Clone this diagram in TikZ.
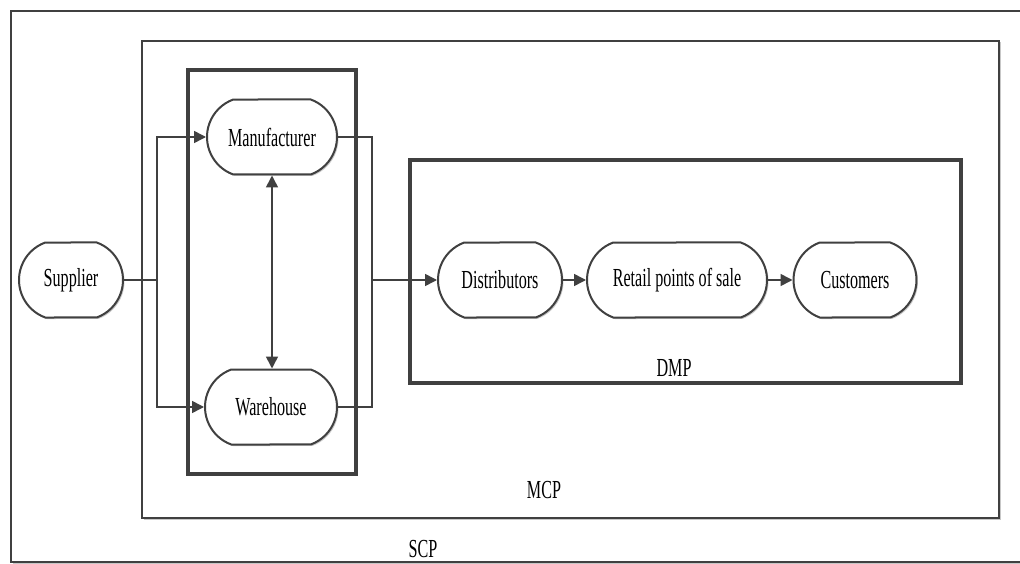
\documentclass[tikz,border=0pt]{standalone}
\usepackage{fontspec}
\usepackage{graphicx}
\setmainfont{Liberation Serif}
\usetikzlibrary{arrows.meta,shadows,shapes.misc}
\definecolor{ink}{HTML}{404040}
\newcommand{\sq}[1]{\scalebox{0.62}[1]{#1}}
\tikzset{
  shad/.style={drop shadow={shadow xshift=1.5pt,shadow yshift=-1.5pt,fill=black!22,opacity=1}},
  frame/.style={draw=ink,fill=white,shad},
  proc/.style={draw=ink,line width=2pt,fill=white,rounded rectangle,
    rounded rectangle arc length=140,
    minimum height=75pt,inner sep=0pt,shad,
    font=\fontsize{26}{29}\selectfont},
  conn/.style={draw=ink,line width=1.6pt},
  arr/.style={conn,-{Triangle[length=12pt,width=12pt]}},
  lbl/.style={font=\fontsize{26}{29}\selectfont,inner sep=0pt}
}
\begin{document}
\begin{tikzpicture}[x=1pt,y=-1pt]
\useasboundingbox (0,0) rectangle (1020,564);
% frames
\path[frame,line width=2pt] (11,11) rectangle (1030,562);
\path[frame,line width=2.5pt] (142,41) rectangle (999,518);
\path[frame,line width=3.5pt] (188,70) rectangle (356,474);
\path[frame,line width=3.5pt] (410,160) rectangle (961,383);
% labels
\node[lbl] (scp) at (423,549) {\sq{SCP}};
\node[lbl] (mcp) at (544,490) {\sq{MCP}};
\node[lbl] (dmp) at (674,368) {\sq{DMP}};
% process nodes
\node[proc,minimum width=104pt] (sup) at (71,280) {\sq{Supplier}};
\node[proc,minimum width=130pt] (man) at (272,137) {\sq{Manufacturer}};
\node[proc,minimum width=132pt] (war) at (271,407) {\sq{Warehouse}};
\node[proc,minimum width=124pt] (dis) at (500,280) {\sq{Distributors}};
\node[proc,minimum width=180pt] (ret) at (677,280) {\sq{Retail points of sale}};
\node[proc,minimum width=123pt] (cus) at (855,280) {\sq{Customers}};
% junctions
\coordinate (j1) at (157,280);
\coordinate (j2) at (372,280);
% connectors
\draw[conn] (sup.east) -- (j1);
\draw[arr] (j1) |- (man.west);
\draw[arr] (j1) |- (war.west);
\draw[conn] (man.east) -| (j2);
\draw[conn] (war.east) -| (j2);
\draw[arr] (j2) -- (dis.west);
\draw[arr] (dis.east) -- (ret.west);
\draw[arr] (ret.east) -- (cus.west);
\draw[conn,{Triangle[length=12pt,width=12pt]}-{Triangle[length=12pt,width=12pt]}] (man.south) -- (war.north -| man.south);
\end{tikzpicture}
\end{document}
